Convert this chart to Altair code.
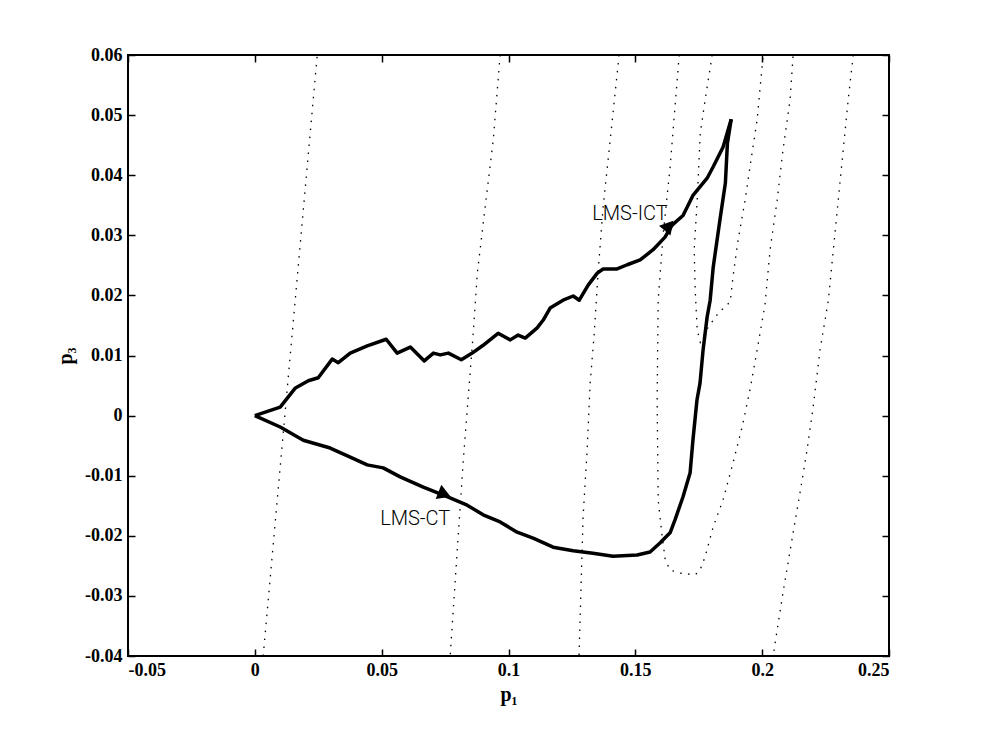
import altair as alt
import pandas as pd

# ---- main trajectories (p1, p3) ----
ICT_P1 = [0.0, 0.0100, 0.0160, 0.0211, 0.0250, 0.0305, 0.0329, 0.0376, 0.0443, 0.0518,
          0.0561, 0.0613, 0.0668, 0.0704, 0.0731, 0.0763, 0.0814, 0.0857, 0.0900, 0.0959,
          0.1007, 0.1038, 0.1066, 0.1113, 0.1137, 0.1164, 0.1215, 0.1255, 0.1279, 0.1314,
          0.1350, 0.1373, 0.1428, 0.1468, 0.1519, 0.1570, 0.1617, 0.1645, 0.1688, 0.1728,
          0.1783, 0.1807, 0.1846, 0.1878]
ICT_P3 = [0.0, 0.0014, 0.0046, 0.0058, 0.0063, 0.0094, 0.0088, 0.0104, 0.0116, 0.0127,
          0.0104, 0.0114, 0.0091, 0.0104, 0.0101, 0.0104, 0.0093, 0.0104, 0.0117, 0.0137,
          0.0126, 0.0134, 0.0129, 0.0146, 0.0159, 0.0179, 0.0192, 0.0199, 0.0192, 0.0217,
          0.0237, 0.0244, 0.0244, 0.0251, 0.0259, 0.0276, 0.0297, 0.0317, 0.0333, 0.0367,
          0.0395, 0.0414, 0.0447, 0.0493]

CT_P1 = [0.0, 0.0100, 0.0191, 0.0297, 0.0376, 0.0443, 0.0506, 0.0573, 0.0664, 0.0758,
         0.0837, 0.0900, 0.0967, 0.1034, 0.1097, 0.1176, 0.1255, 0.1333, 0.1412, 0.1507,
         0.1558, 0.1597, 0.1637, 0.1656, 0.1688, 0.1716, 0.1727, 0.1743, 0.1755, 0.1767,
         0.1783, 0.1795, 0.1807, 0.1835, 0.1855, 0.1863, 0.1878]
CT_P3 = [0.0, -0.0019, -0.0041, -0.0054, -0.0069, -0.0082, -0.0087, -0.0102, -0.0119, -0.0135,
         -0.0149, -0.0165, -0.0177, -0.0194, -0.0204, -0.0219, -0.0225, -0.0229, -0.0234, -0.0232,
         -0.0227, -0.0212, -0.0195, -0.0174, -0.0135, -0.0095, -0.0041, 0.0026, 0.0054, 0.0109,
         0.0164, 0.0192, 0.0247, 0.0330, 0.0387, 0.0453, 0.0493]

# ---- dotted contour lines ----
A_P1 = [0.0033, 0.0246]
A_P3 = [-0.0400, 0.0600]
B_P1 = [0.0967, 0.0940, 0.0908, 0.0877, 0.0861, 0.0822, 0.0770]
B_P3 = [0.0600, 0.0459, 0.0347, 0.0237, 0.0137, -0.0073, -0.0400]
C_P1 = [0.1436, 0.1401, 0.1373, 0.1353, 0.1338, 0.1322, 0.1310, 0.1294, 0.1278]
C_P3 = [0.0600, 0.0459, 0.0347, 0.0237, 0.0137, 0.0054, -0.0057, -0.0169, -0.0400]
D_P1 = [0.1673, 0.1637, 0.1610, 0.1590, 0.1586, 0.1590, 0.1606, 0.1618, 0.1637, 0.1677,
        0.1736, 0.1755, 0.1775, 0.1807, 0.1846, 0.1885, 0.1921, 0.1952, 0.1980, 0.2011,
        0.2031, 0.2059, 0.2082, 0.2110, 0.2122]
D_P3 = [0.0600, 0.0413, 0.0303, 0.0192, 0.0026, -0.0140, -0.0202, -0.0240, -0.0257, -0.0262,
        -0.0265, -0.0257, -0.0235, -0.0185, -0.0140, -0.0079, -0.0019, 0.0043, 0.0109, 0.0184,
        0.0275, 0.0358, 0.0442, 0.0525, 0.0600]
E_P1 = [0.1803, 0.1775, 0.1756, 0.1744, 0.1732, 0.1736, 0.1744, 0.1756, 0.1787, 0.1830,
        0.1874, 0.1885, 0.1905, 0.1933, 0.1952, 0.1980, 0.2004]
E_P3 = [0.0600, 0.0525, 0.0470, 0.0359, 0.0276, 0.0209, 0.0142, 0.0122, 0.0147, 0.0172,
        0.0189, 0.0231, 0.0292, 0.0359, 0.0414, 0.0492, 0.0600]
F_P1 = [0.2359, 0.2339, 0.2300, 0.2261, 0.2228, 0.2201, 0.2177, 0.2149, 0.2122, 0.2082, 0.2043]
F_P3 = [0.0600, 0.0525, 0.0359, 0.0192, 0.0109, 0.0014, -0.0057, -0.0129, -0.0195, -0.0295, -0.0400]

# ---- annotations ----
LABELS = ["LMS-CT", "LMS-ICT"]
LABEL_P1 = [0.0494, 0.1330]
LABEL_P3 = [-0.0172, 0.0336]
ARROW_P1 = [0.0748, 0.1633]
ARROW_P3 = [-0.0131, 0.0316]
ARROW_ANGLE = [22, 311]

X_TICKS = [-0.05, 0.0, 0.05, 0.1, 0.15, 0.2, 0.25]
Y_TICKS = [-0.04, -0.03, -0.02, -0.01, 0.0, 0.01, 0.02, 0.03, 0.04, 0.05, 0.06]


def path_df(name, xs, ys):
    return pd.DataFrame({"name": name, "i": range(len(xs)), "p1": xs, "p3": ys})


curves = pd.concat([path_df("ICT", ICT_P1, ICT_P3), path_df("CT", CT_P1, CT_P3)])
contours = pd.concat([
    path_df("A", A_P1, A_P3), path_df("B", B_P1, B_P3), path_df("C", C_P1, C_P3),
    path_df("D", D_P1, D_P3), path_df("E", E_P1, E_P3), path_df("F", F_P1, F_P3),
])
labels = pd.DataFrame({"t": LABELS, "p1": LABEL_P1, "p3": LABEL_P3})
arrows = pd.DataFrame({"p1": ARROW_P1, "p3": ARROW_P3, "ang": ARROW_ANGLE})

xscale = alt.Scale(domain=[-0.05, 0.25], nice=False, zero=False)
yscale = alt.Scale(domain=[-0.04, 0.06], nice=False, zero=False)

lab_expr = "datum.value < 0 ? '-' + format(-datum.value, '~g') : format(datum.value, '~g')"
FONT = "Liberation Serif"

common_axis = dict(offset=-7, tickSize=7, tickWidth=1.5, tickColor="black",
                   domain=False, grid=False, labelFont=FONT, labelFontSize=18,
                   labelFontWeight="bold", labelColor="black", labelExpr=lab_expr,
                   titleFont=FONT, titleFontSize=20, titleFontWeight="bold",
                   titleColor="black")

x_bottom = alt.Axis(orient="bottom", values=X_TICKS, labelPadding=5, title="p\u2081",
                    titleY=45, titleBaseline="middle", **common_axis)
y_left = alt.Axis(orient="left", values=Y_TICKS, labelPadding=6, title="p\u2083",
                  titleX=-70, titleBaseline="middle", **common_axis)
x_top = alt.Axis(orient="top", values=X_TICKS, labels=False, title="", offset=-7,
                 tickSize=7, tickWidth=1.5, tickColor="black", domain=False, grid=False)
y_right = alt.Axis(orient="right", values=Y_TICKS, labels=False, title="", offset=-7,
                   tickSize=7, tickWidth=1.5, tickColor="black", domain=False, grid=False)

contour_layer = alt.Chart(contours).mark_line(
    color="black", strokeWidth=1.3, strokeDash=[1.5, 6.5], clip=True
).encode(
    x=alt.X("p1:Q", scale=xscale, axis=x_bottom),
    y=alt.Y("p3:Q", scale=yscale, axis=y_left),
    detail="name:N",
    order="i:Q",
)

curve_layer = alt.Chart(curves).mark_line(
    color="black", strokeWidth=3.5, strokeJoin="round", clip=True
).encode(
    x=alt.X("p1:Q", scale=xscale, axis=x_top),
    y=alt.Y("p3:Q", scale=yscale, axis=y_right),
    detail="name:N",
    order="i:Q",
)

arrow_layer = alt.Chart(arrows).mark_point(
    shape="triangle-right", filled=True, color="black", size=230, opacity=1
).encode(
    x=alt.X("p1:Q", scale=xscale, axis=None),
    y=alt.Y("p3:Q", scale=yscale, axis=None),
    angle=alt.Angle("ang:Q", scale=None),
)

text_layer = alt.Chart(labels).mark_text(
    align="left", baseline="middle", font="Roboto", fontSize=20, fontWeight=300,
    color="black"
).encode(
    x=alt.X("p1:Q", scale=xscale, axis=None),
    y=alt.Y("p3:Q", scale=yscale, axis=None),
    text="t:N",
)

chart = alt.layer(contour_layer, curve_layer, arrow_layer, text_layer).resolve_axis(
    x="independent", y="independent"
).properties(
    width=761, height=601,
    autosize=alt.AutoSizeParams(type="none"),
    padding={"left": 120, "top": 47, "right": 60, "bottom": 72},
).configure(
    background="white",
    view=alt.ViewConfig(stroke="black", strokeWidth=2),
)

chart.save("out.html", embed_options={"renderer": "svg", "actions": False})
